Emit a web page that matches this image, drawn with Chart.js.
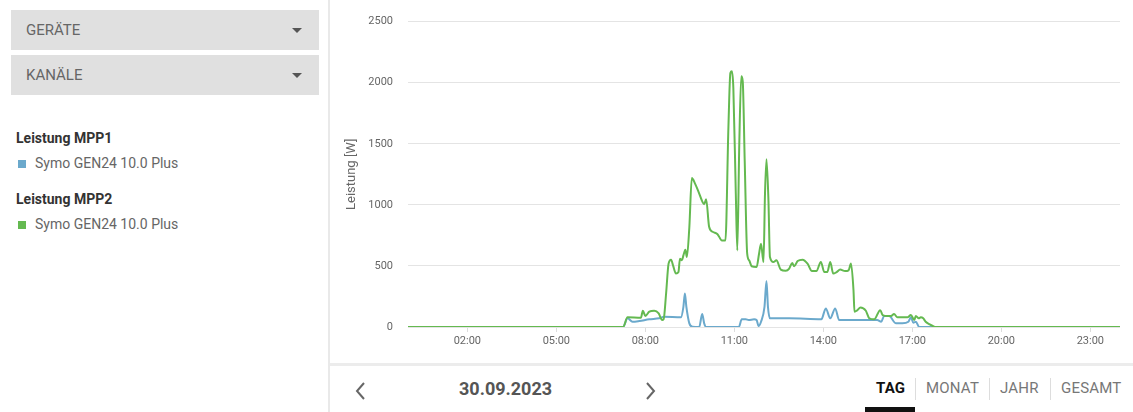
<!DOCTYPE html>
<html>
<head>
<meta charset="utf-8">
<script src="https://cdn.jsdelivr.net/npm/chart.js@4"></script>
<style>
  html, body { margin: 0; padding: 0; background: #fff; font-family: Roboto, "Noto Sans", sans-serif; }
  body { width: 1133px; height: 412px; position: relative; overflow: hidden; }
  #sidebar { position: absolute; left: 0; top: 0; width: 330px; height: 412px; border-right: 2px solid #e9e9e9; box-sizing: border-box; }
  .select { position: absolute; left: 11px; width: 308px; height: 40px; background: #e0e0e0; color: #666; font-size: 15px; line-height: 40px; padding-left: 15px; box-sizing: border-box; }
  .select .caret { position: absolute; right: 17px; top: 18px; width: 0; height: 0; border-left: 5px solid transparent; border-right: 5px solid transparent; border-top: 5px solid #555; }
  .group { position: absolute; left: 16px; font-size: 14px; font-weight: bold; color: #333; }
  .item { position: absolute; left: 18px; font-size: 14px; color: #666; }
  .item i { display: inline-block; width: 8px; height: 8px; margin-right: 9px; vertical-align: 0px; }
  #chartbox { position: absolute; left: 330px; top: 0; width: 803px; height: 362px; }
  #bottombar { position: absolute; left: 330px; top: 363px; width: 803px; height: 49px; border-top: 3px solid #ececec; box-sizing: border-box; }
  .chev { position: absolute; top: 15px; }
  #date { position: absolute; left: 129px; top: 12px; width: 92px; text-align: center; font-size: 18px; font-weight: bold; color: #555; }
  .tab { position: absolute; top: 13px; font-size: 15px; color: #777; letter-spacing: 0.2px; }
  .tab.active { color: #111; font-weight: bold; }
  .sep { position: absolute; top: 12px; width: 1px; height: 22px; background: #ddd; }
  #underline { position: absolute; left: 535px; top: 41px; width: 50px; height: 5px; background: #111; }
</style>
</head>
<body>
<div id="sidebar">
  <div class="select" style="top:10px">GERÄTE<span class="caret"></span></div>
  <div class="select" style="top:55px">KANÄLE<span class="caret"></span></div>
  <div class="group" style="top:130px">Leistung MPP1</div>
  <div class="item" style="top:155px"><i style="background:#6ba9cc"></i>Symo GEN24 10.0 Plus</div>
  <div class="group" style="top:191px">Leistung MPP2</div>
  <div class="item" style="top:216px"><i style="background:#64b950"></i>Symo GEN24 10.0 Plus</div>
</div>
<div id="chartbox"><canvas id="chart"></canvas></div>
<div id="bottombar">
  <svg class="chev" style="left:25px" width="12" height="20"><polyline points="9,2 2,10 9,18" fill="none" stroke="#666" stroke-width="2"/></svg>
  <div id="date">30.09.2023</div>
  <svg class="chev" style="left:314px" width="12" height="20"><polyline points="3,2 10,10 3,18" fill="none" stroke="#666" stroke-width="2"/></svg>
  <div class="tab active" style="left:546px">TAG</div>
  <div class="sep" style="left:585px"></div>
  <div class="tab" style="left:596px">MONAT</div>
  <div class="sep" style="left:659px"></div>
  <div class="tab" style="left:670px">JAHR</div>
  <div class="sep" style="left:720px"></div>
  <div class="tab" style="left:731px">GESAMT</div>
  <div id="underline"></div>
</div>
<script>
// Leistung MPP1 (blue)
const mpp1Times = ['00:00', '07:15', '07:24', '07:34', '07:48', '08:08', '08:28', '08:38', '09:12', '09:17', '09:20', '09:23',
    '09:29', '09:35', '09:49', '09:55', '09:59', '10:03', '11:09', '11:15', '11:23', '11:29', '11:40', '11:45', '11:49',
    '11:54', '12:01', '12:05', '12:08', '12:12', '12:51', '13:56', '14:05', '14:14', '14:24', '14:32', '15:29', '15:49',
    '15:57', '16:03', '16:13', '16:27', '16:40', '16:52', '16:57', '17:02', '17:07', '17:14', '24:00'];
const mpp1Values = [0, 0, 71, 43, 49, 63, 71, 84, 79, 165, 274, 165,
    30, 3, 0, 106, 30, 0, 0, 63, 63, 57, 63, 57, 8,
    43, 165, 377, 165, 71, 71, 63, 152, 71, 152, 57, 57, 57,
    43, 90, 90, 30, 30, 43, 79, 35, 43, 0, 0];

// Leistung MPP2 (green)
const mpp2Times = ['00:00', '07:15', '07:24', '07:51', '07:55', '08:00', '08:08', '08:18', '08:27', '08:34', '08:37', '08:42',
    '08:47', '08:52', '08:56', '09:02', '09:07', '09:10', '09:14', '09:17', '09:21', '09:24', '09:29', '09:34', '09:41',
    '09:48', '09:56', '09:59', '10:03', '10:09', '10:16', '10:26', '10:35', '10:42', '10:48', '10:52', '10:55', '10:58',
    '11:03', '11:06', '11:10', '11:14', '11:17', '11:21', '11:26', '11:30', '11:35', '11:45', '11:50', '11:54', '11:59',
    '12:02', '12:05', '12:09', '12:12', '12:19', '12:25', '12:34', '12:44', '12:51', '12:57', '13:01', '13:08', '13:18',
    '13:28', '13:37', '13:46', '13:55', '14:02', '14:08', '14:14', '14:20', '14:27', '14:34', '14:44', '14:51', '14:56',
    '15:01', '15:03', '15:09', '15:15', '15:26', '15:33', '15:43', '15:55', '16:00', '16:10', '16:17', '16:23', '16:30',
    '16:50', '16:57', '17:04', '17:07', '17:13', '17:17', '17:22', '17:27', '17:34', '17:44', '17:50', '24:00'];
const mpp2Values = [0, 0, 79, 75, 133, 90, 125, 133, 111, 57, 63, 274,
    519, 551, 505, 437, 450, 559, 546, 586, 633, 573, 817, 1219, 1170,
    1102, 1020, 1005, 1045, 820, 780, 760, 708, 708, 1631, 2079, 2093, 1957,
    1089, 627, 1496, 2052, 2011, 1360, 600, 546, 497, 491, 600, 682, 532,
    1089, 1374, 1034, 573, 532, 546, 470, 460, 478, 524, 497, 540, 551,
    519, 458, 458, 532, 450, 450, 532, 437, 450, 470, 458, 464, 519,
    301, 125, 138, 160, 133, 71, 63, 138, 98, 90, 90, 106, 79,
    79, 98, 57, 90, 71, 79, 71, 43, 24, 3, 0, 0];

const xTicks = [2, 5, 8, 11, 14, 17, 20, 23];

function toHours(t) {
    const p = t.split(':');
    return parseInt(p[0]) + parseInt(p[1]) / 60;
}

function points(times, values) {
    return times.map((t, i) => ({x: toHours(t), y: values[i]}));
}

function pad(n) {
    return (n < 10 ? '0' : '') + n;
}

new Chart(document.getElementById('chart'), {
    type: 'line',
    data: {
        datasets: [
            {
                label: 'Leistung MPP2',
                data: points(mpp2Times, mpp2Values),
                borderColor: '#64b950',
                borderWidth: 2,
                pointRadius: 0,
                cubicInterpolationMode: 'monotone',
                order: 0
            },
            {
                label: 'Leistung MPP1',
                data: points(mpp1Times, mpp1Values),
                borderColor: '#6ba9cc',
                borderWidth: 2,
                pointRadius: 0,
                cubicInterpolationMode: 'monotone',
                order: 1
            }
        ]
    },
    options: {
        responsive: true,
        maintainAspectRatio: false,
        animation: false,
        layout: {
            padding: {left: 10, top: 20, right: 13, bottom: 0}
        },
        plugins: {
            legend: {display: false},
            tooltip: {enabled: false}
        },
        scales: {
            x: {
                type: 'linear',
                min: 0,
                max: 24,
                afterBuildTicks: (scale) => {
                    scale.ticks = xTicks.map(v => ({value: v}));
                },
                afterFit: (scale) => {
                    scale.height = 35;
                },
                border: {display: false},
                grid: {
                    drawOnChartArea: false,
                    drawTicks: true,
                    tickLength: 5,
                    color: '#dddddd'
                },
                ticks: {
                    padding: 3,
                    maxRotation: 0,
                    color: '#666',
                    font: {family: 'Roboto', size: 11},
                    callback: (v) => pad(v) + ':00'
                }
            },
            y: {
                min: 0,
                max: 2500,
                afterFit: (scale) => {
                    scale.width = 68;
                },
                border: {display: false},
                grid: {
                    drawTicks: false,
                    color: '#e4e4e4'
                },
                ticks: {
                    stepSize: 500,
                    padding: 15,
                    color: '#666',
                    font: {family: 'Roboto', size: 11},
                    callback: (v) => String(v)
                },
                title: {
                    display: true,
                    text: 'Leistung [W]',
                    color: '#666',
                    font: {family: 'Roboto', size: 13}
                }
            }
        }
    }
});
</script>
</body>
</html>
